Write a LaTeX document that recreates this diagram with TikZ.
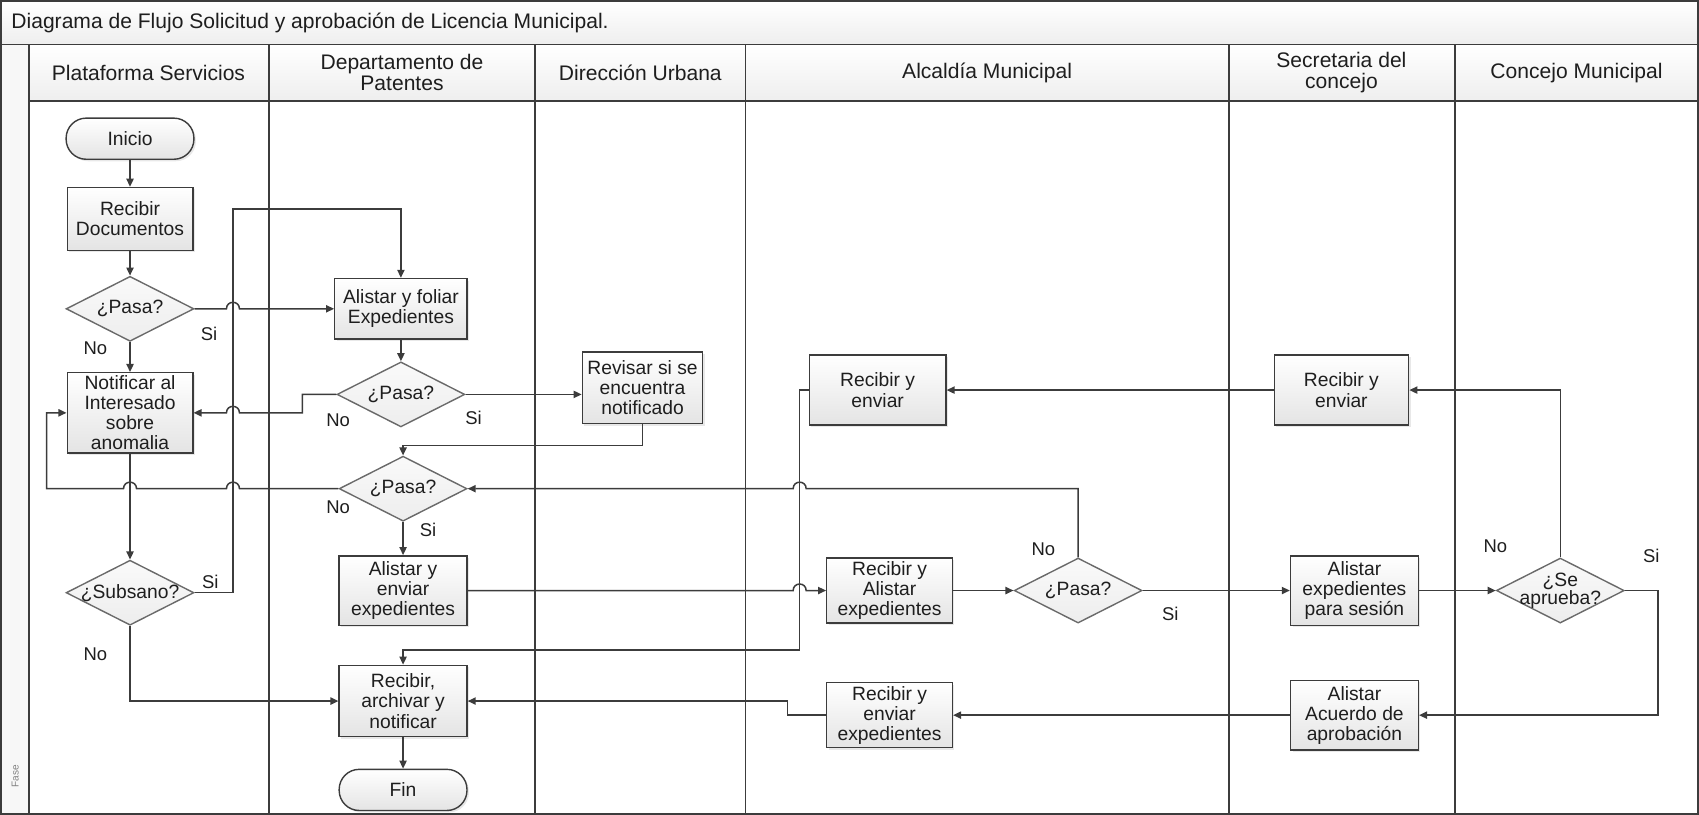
\documentclass[tikz,border=0pt]{standalone}
\usepackage{fontspec}
\setmainfont{Liberation Sans}
\usetikzlibrary{shapes.geometric,arrows.meta,shadows}
\definecolor{linea}{HTML}{3C3C3C}
\definecolor{borde}{HTML}{6A6A6A}
\definecolor{fondo}{HTML}{E4E4E4}
\definecolor{cabeza}{HTML}{EEEEEE}
\definecolor{texto}{HTML}{1E1E1E}
\begin{document}
\begin{tikzpicture}[x=0.54pt, y=-0.54pt, text=texto, font=\fontsize{9.6}{10}\selectfont,
    lane/.style = {draw=linea, line width=0.85pt},
    head/.style = {align=center, font=\fontsize{10.5}{10.5}\selectfont},
    proc/.style = {draw=linea, line width=0.7pt, top color=white, bottom color=fondo, align=center, inner sep=1pt,
                   drop shadow={opacity=0.18, shadow xshift=1pt, shadow yshift=-1pt}},
    term/.style = {proc, rounded corners=10pt, minimum width=63.7pt, minimum height=20.5pt},
    decision/.style = {draw=borde, line width=0.7pt, diamond, top color=gray!4, bottom color=gray!14,
                       minimum width=63.7pt, minimum height=32.4pt, inner sep=0pt},
    conn/.style = {draw=linea, line width=0.75pt, -{Triangle[length=4pt, width=3.6pt]}},
    tag/.style = {font=\fontsize{9.2}{10}\selectfont, inner sep=0pt},
    jumpr/.style 2 args = {insert path={-- (#1-6,#2) .. controls (#1-6,#2-8) and (#1+6,#2-8) .. (#1+6,#2)}},
    jumpl/.style 2 args = {insert path={-- (#1+6,#2) .. controls (#1+6,#2-8) and (#1-6,#2-8) .. (#1-6,#2)}}]
    \useasboundingbox (0,0) rectangle (1568,752);

    % marco, titulo y carriles
    \draw[lane, top color=white, bottom color=cabeza] (1,1) rectangle (1567,41);
    \node[anchor=west, font=\fontsize{10.5}{12}\selectfont] (titulo) at (4,21) {Diagrama de Flujo Solicitud y aprobación de Licencia Municipal.};
    \draw[lane, top color=white, bottom color=cabeza] (27,41) rectangle (1567,93);
    \draw[lane, fill=cabeza!45] (1,41) rectangle (27,751);
    \draw[lane] (27,93) rectangle (1567,751);
    \foreach \x in {248,494,688,1134,1343}
        \draw[lane] (\x,41) -- (\x,751);
    \foreach \cx/\txt [count=\i] in {137/Plataforma Servicios, 371/{Departamento de\\Patentes},
            591/Dirección Urbana, 911/Alcaldía Municipal, 1238/{Secretaria del\\concejo}, 1455/Concejo Municipal}
        \node[head] (h\i) at (\cx,67) {\txt};
    \node[rotate=90, anchor=west, font=\fontsize{5}{6}\selectfont, text=gray] (fase) at (14,733) {Fase};

    % nodos
    \node[term] (ini) at (120,128) {Inicio};
    \node[proc, minimum width=62.6pt, minimum height=31.3pt] (recdoc) at (120,202) {Recibir\\Documentos};
    \node[decision, label=center:¿Pasa?] (pasa1) at (120,285) {};
    \node[proc, minimum width=62.6pt, minimum height=40pt] (notif) at (120,381) {Notificar al\\Interesado\\sobre\\anomalia};
    \node[decision, label=center:¿Subsano?] (subs) at (120,547) {};
    \node[proc, minimum width=65.9pt, minimum height=30.2pt] (foliar) at (370,285) {Alistar y foliar\\Expedientes};
    \node[decision, label=center:¿Pasa?] (pasa2) at (370,364) {};
    \node[proc, minimum width=60pt, minimum height=35.6pt] (revisar) at (593,358) {Revisar si se\\encuentra\\notificado};
    \node[decision, label=center:¿Pasa?] (pasa3) at (372,451) {};
    \node[proc, minimum width=63.7pt, minimum height=34.6pt] (envexp) at (372,545) {Alistar y\\enviar\\expedientes};
    \node[proc, minimum width=63.7pt, minimum height=35.6pt] (archiv) at (372,647) {Recibir,\\archivar y\\notificar};
    \node[term] (fin) at (372,729) {Fin};
    \node[proc, minimum width=68pt, minimum height=35pt] (recenvA) at (810,360) {Recibir y\\enviar};
    \node[proc, minimum width=62.6pt, minimum height=32.4pt] (recalist) at (821,545) {Recibir y\\Alistar\\expedientes};
    \node[decision, label=center:¿Pasa?] (pasa4) at (995,545) {};
    \node[proc, minimum width=62.6pt, minimum height=32.4pt] (recenvexp) at (821,660) {Recibir y\\enviar\\expedientes};
    \node[proc, minimum width=67pt, minimum height=35pt] (recenvS) at (1238,360) {Recibir y\\enviar};
    \node[proc, minimum width=63.7pt, minimum height=34.6pt] (sesion) at (1250,545) {Alistar\\expedientes\\para sesión};
    \node[proc, minimum width=63.7pt, minimum height=34.6pt] (acuerdo) at (1250,660) {Alistar\\Acuerdo de\\aprobación};
    \node[decision, label={[align=center, font=\fontsize{9.6}{8.8}\selectfont]center:¿Se\\aprueba?}] (aprueba) at (1440,545) {};

    % conectores
    \draw[conn] (ini) -- (recdoc);
    \draw[conn] (recdoc) -- (pasa1);
    \draw[conn] (pasa1) -- (notif);
    \draw[conn] (pasa1.east) [jumpr={215}{285}] -- (foliar.west);
    \draw[conn] (foliar) -- (pasa2);
    \draw[conn] (pasa2.west) -| (279,381) [jumpl={215}{381}] -- (notif.east);
    \draw[conn] (pasa2.east) -- (revisar.west |- pasa2.east);
    \draw[conn] (revisar.south) |- (372,411) -- (pasa3.north);
    \draw[conn] (pasa3.west) [jumpl={215}{451}] [jumpl={120}{451}] -- (43,451) |- (notif.west);
    \draw[conn] (pasa3) -- (envexp);
    \draw[conn] (notif) -- (subs);
    \draw[conn] (subs.east) -- (215,547) |- (370,193) -- (foliar.north);
    \draw[conn] (subs.south) |- (archiv.west);
    \draw[conn] (archiv) -- (fin);
    \draw[conn] (envexp.east) [jumpr={738}{545}] -- (recalist.west);
    \draw[conn] (recalist) -- (pasa4);
    \draw[conn] (pasa4.north) -- (995,451) [jumpl={738}{451}] -- (pasa3.east);
    \draw[conn] (pasa4.east) -- (sesion.west);
    \draw[conn] (sesion.east) -- (aprueba.west);
    \draw[conn] (aprueba.north) |- (recenvS.east);
    \draw[conn] (recenvS.west) -- (recenvA.east);
    \draw[conn] (recenvA.west) -- (738,360) -- (738,600) -| (archiv.north);
    \draw[conn] (aprueba.east) -- (1530,545) |- (acuerdo.east);
    \draw[conn] (acuerdo.west) -- (recenvexp.east);
    \draw[conn] (recenvexp.west) -- (727,660) |- (archiv.east);

    % etiquetas
    \node[tag] (t1) at (88,321) {No};
    \node[tag] (t2) at (193,308) {Si};
    \node[tag] (t3) at (312,388) {No};
    \node[tag] (t4) at (437,386) {Si};
    \node[tag] (t5) at (312,468) {No};
    \node[tag] (t6) at (395,489) {Si};
    \node[tag] (t7) at (194,537) {Si};
    \node[tag] (t8) at (88,604) {No};
    \node[tag] (t9) at (963,507) {No};
    \node[tag] (t10) at (1080,567) {Si};
    \node[tag] (t11) at (1380,504) {No};
    \node[tag] (t12) at (1524,513) {Si};
\end{tikzpicture}
\end{document}
